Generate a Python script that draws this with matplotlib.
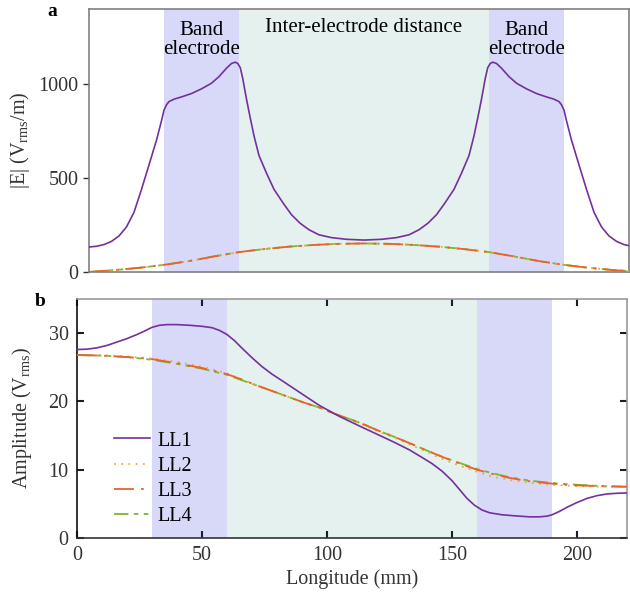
"""Electric field and amplitude along the longitude for LL1-LL4."""

import matplotlib
matplotlib.use("Agg")
import matplotlib.pyplot as plt

plt.rcParams["font.family"] = ["Liberation Serif", "DejaVu Serif"]
plt.rcParams["mathtext.fontset"] = "custom"
plt.rcParams["mathtext.rm"] = "Liberation Serif"
plt.rcParams["mathtext.it"] = "Liberation Serif:italic"

# ── Data ────────────────────────────────────────────────────────────────
band_left = (30, 60)
inter_gap = (60, 160)
band_right = (160, 190)

# panel a: |E| (V_rms/m)
xa_ll1 = [0, 3, 6, 9, 12, 15, 18, 21, 24, 27, 29, 30, 31, 32, 34, 37, 41,
          45, 49, 52, 55, 57, 58.5, 59.5, 60.5, 61.5, 63, 64.5, 66, 68, 71,
          74, 77.7, 81, 84.4, 88, 92, 97, 103, 110,
          117, 123, 128, 132, 135.6, 139, 142.3, 146, 149, 152, 154, 155.5,
          157, 158.5, 159.5, 160.5, 161.5, 163, 165, 168, 171, 175, 179, 183,
          186, 188, 189, 190, 191, 193, 196, 199, 202, 205, 208, 211, 214,
          217, 220]
ea_ll1 = [133, 137, 146, 163, 192, 240, 318, 440, 570, 702, 805, 862, 890,
          907, 920, 932, 950, 975, 1005, 1040, 1085, 1110, 1117, 1110, 1088,
          1030, 920, 820, 725, 620, 526, 440, 366, 305, 260, 225, 198, 183,
          174, 170,
          174, 183, 198, 225, 260, 305, 366, 440, 526, 620, 725, 820, 920,
          1030, 1088, 1110, 1117, 1110, 1085, 1040, 1005, 975, 950, 932, 920,
          907, 890, 862, 805, 702, 570, 440, 318, 240, 192, 163, 146, 137,
          133]

xa_ll = [0, 10, 20, 30, 40, 50, 60, 70, 80, 90, 100, 110,
         120, 130, 140, 150, 160, 170, 180, 190, 200, 210, 220]
ea_ll2 = [0, 10, 22, 38, 58, 83, 106, 122, 135, 144, 150, 152,
          150, 144, 135, 122, 106, 83, 58, 38, 22, 10, 2]
ea_ll3 = ea_ll2
ea_ll4 = ea_ll2

# panel b: amplitude (V_rms)
xb_ll1 = [0, 4, 8, 12, 16, 20, 24, 27, 30, 33, 36, 40, 45, 50, 54, 57, 60,
          63, 66, 70, 74, 78, 83, 90, 97, 105, 113, 120, 127, 133, 138, 142,
          146, 150, 153, 156, 159, 162, 165, 170, 175, 181, 185, 188, 190,
          193, 196, 200, 204, 208, 212, 216, 220]
yb_ll1 = [27.6, 27.65, 27.85, 28.2, 28.7, 29.2, 29.8, 30.3, 30.85, 31.15,
          31.25, 31.25, 31.15, 31.0, 30.8, 30.4, 29.8, 28.9, 27.8, 26.4, 25.1,
          24.0, 22.8, 21.1, 19.4, 17.8, 16.4, 15.2, 14.0, 12.9, 11.8, 10.9,
          9.8, 8.4, 7.1, 5.8, 4.8, 4.1, 3.7, 3.4, 3.25, 3.1, 3.1, 3.2, 3.4,
          3.9, 4.5, 5.2, 5.8, 6.2, 6.45, 6.55, 6.6]

xb_ll = [0, 10, 20, 30, 40, 50, 60, 66, 73, 79, 85, 91, 97, 103, 110, 115,
         120, 127, 133, 140, 146, 153, 160, 166, 173, 181, 189, 195, 200,
         210, 220]
yb_ll2 = [26.8, 26.8, 26.6, 26.3, 25.8, 25.1, 24.1, 23.2, 22.2, 21.4, 20.6,
          19.8, 19.1, 18.2, 17.2, 16.5, 15.7, 14.7, 13.7, 12.6, 11.6, 10.6,
          9.7, 9.0, 8.5, 8.1, 7.8, 7.7, 7.6, 7.5, 7.5]
yb_ll3 = [26.8, 26.7, 26.5, 26.2, 25.6, 24.9, 24.0, 23.2, 22.2, 21.4, 20.6,
          19.8, 19.1, 18.2, 17.3, 16.6, 15.8, 14.8, 13.9, 12.8, 11.9, 10.9,
          10.0, 9.4, 8.8, 8.3, 8.0, 7.8, 7.7, 7.6, 7.5]
yb_ll4 = [26.8, 26.7, 26.5, 26.1, 25.5, 24.8, 23.9, 23.1, 22.2, 21.4, 20.6,
          19.8, 19.1, 18.2, 17.3, 16.6, 15.8, 14.8, 13.9, 12.8, 11.9, 11.0,
          10.1, 9.5, 8.9, 8.4, 8.1, 7.9, 7.8, 7.6, 7.5]

# ── Styles ──────────────────────────────────────────────────────────────
C_LL1 = "#74309c"
C_LL2 = "#f2a93b"
C_LL3 = "#e8622c"
C_LL4 = "#78b82a"
C_BAND = "#d8d8f8"
C_GAP = "#e4f1ef"
FS = 14.5

fig = plt.figure(figsize=(6.3, 5.96), dpi=100)
ax_a = fig.add_axes([89 / 630, 1 - 272 / 596, 540 / 630, 263 / 596])
ax_b = fig.add_axes([77 / 630, 1 - 538 / 596, 550 / 630, 239 / 596])


def shade(ax):
    ax.axvspan(*band_left, color=C_BAND, lw=0, zorder=0)
    ax.axvspan(*inter_gap, color=C_GAP, lw=0, zorder=0)
    ax.axvspan(*band_right, color=C_BAND, lw=0, zorder=0)


def draw_lines(ax, x1, y1, x, y2, y3, y4):
    ax.plot(x1, y1, color=C_LL1, lw=1.2, label="LL1", zorder=4)
    ax.plot(x, y2, color=C_LL2, lw=1.3, dashes=[1, 3], label="LL2", zorder=3)
    ax.plot(x, y3, color=C_LL3, lw=1.3, dashes=[11, 4, 1.5, 4], label="LL3", zorder=3)
    ax.plot(x, y4, color=C_LL4, lw=1.3, dashes=[8, 3, 2.5, 3, 2.5, 3],
            label="LL4", zorder=2)


# ── Panel a ─────────────────────────────────────────────────────────────
shade(ax_a)
draw_lines(ax_a, xa_ll1, ea_ll1, xa_ll, ea_ll2, ea_ll3, ea_ll4)
ax_a.set_xlim(0, 216)
ax_a.set_ylim(0, 1400)
ax_a.set_yticks([0, 500, 1000])
ax_a.set_xticks([])
ax_a.tick_params(axis="y", direction="out", length=4, width=1.0,
                 labelsize=FS, colors="#333333")
for s in ax_a.spines.values():
    s.set_color("#808080")
    s.set_linewidth(1.2)
ax_a.set_ylabel(r"|E| (V$_{\mathrm{rms}}$/m)", fontsize=FS, color="#333333")
ax_a.yaxis.set_label_coords(-0.105, 0.5)

ax_a.text(sum(band_left) / 2, 1235, "Band\nelectrode", ha="center",
          va="center", fontsize=15, linespacing=0.95)
ax_a.text(sum(band_right) / 2, 1235, "Band\nelectrode", ha="center",
          va="center", fontsize=15, linespacing=0.95)
ax_a.text(sum(inter_gap) / 2, 1300, "Inter-electrode distance", ha="center",
          va="center", fontsize=15)
fig.text(52 / 630, 1 - 12 / 596, "a", fontsize=14, fontweight="bold",
         ha="center", va="center")

# ── Panel b ─────────────────────────────────────────────────────────────
shade(ax_b)
draw_lines(ax_b, xb_ll1, yb_ll1, xb_ll, yb_ll2, yb_ll3, yb_ll4)
ax_b.set_xlim(0, 220)
ax_b.set_ylim(0, 35)
ax_b.set_xticks([0, 50, 100, 150, 200])
ax_b.set_yticks([0, 10, 20, 30])
ax_b.tick_params(direction="in", length=5, width=1.5, top=True, right=True,
                 labelsize=FS, color="#1c1c30", labelcolor="#333333", pad=6)
ax_b.spines["left"].set_color("#111111")
ax_b.spines["bottom"].set_color("#333333")
ax_b.spines["top"].set_color("#999999")
ax_b.spines["right"].set_color("#999999")
for s in ax_b.spines.values():
    s.set_linewidth(1.2)
ax_b.set_xlabel("Longitude (mm)", fontsize=FS, color="#333333", labelpad=3)
ax_b.set_ylabel(r"Amplitude (V$_{\mathrm{rms}}$)", fontsize=FS, color="#333333")
ax_b.yaxis.set_label_coords(-0.078, 0.5)
ax_b.legend(loc="lower left", bbox_to_anchor=(0.045, 0.0), frameon=False,
            fontsize=FS, handlelength=1.8, handletextpad=0.35,
            labelspacing=0.3, borderaxespad=0.2)
fig.text(40 / 630, 1 - 301 / 596, "b", fontsize=14, fontweight="bold",
         ha="center", va="center")

fig.savefig("out.png", dpi=100)
